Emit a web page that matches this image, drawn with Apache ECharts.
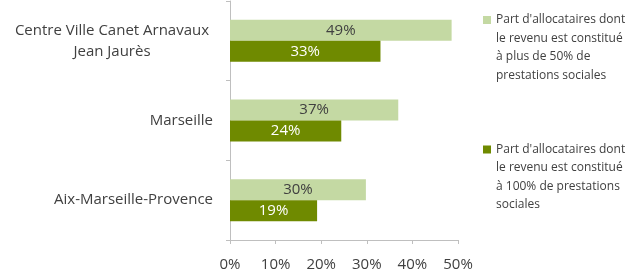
<!DOCTYPE html>
<html><head><meta charset="utf-8">
<script src="https://cdn.jsdelivr.net/npm/echarts@6/dist/echarts.min.js"></script>
<style>html,body{margin:0;padding:0;background:#fff}#c{width:634px;height:269px}</style>
</head><body><div id="c"></div>
<script>
var categories = ["Centre Ville Canet Arnavaux\nJean Jaurès", "Marseille", "Aix-Marseille-Provence"];
var seriesNames = [
  "Part d'allocataires dont\nle revenu est constitué\nà plus de 50% de\nprestations sociales",
  "Part d'allocataires dont\nle revenu est constitué\nà 100% de prestations\nsociales"
];
var plus50 = [48.6, 36.9, 29.8];
var full100 = [33.0, 24.4, 19.1];
var xTicks = [0, 10, 20, 30, 40, 50];

var FONT = "'Open Sans', sans-serif";
var LEG_LH = 18.5;
var chart = echarts.init(document.getElementById('c'));
chart.setOption({
  animation: false,
  textStyle: {fontFamily: FONT},
  grid: {left: 230, right: 176, top: 1, bottom: 29, containLabel: false, outerBoundsMode: 'none'},
  legend: {
    orient: 'vertical', left: 478, top: 20 - 3.5 * LEG_LH - 5,
    itemWidth: 8, itemHeight: 8, itemGap: 0,
    icon: 'rect',
    data: seriesNames,
    formatter: function (n) { return '\n\n\n' + n; },
    textStyle: {fontFamily: FONT, fontSize: 12, color: '#404040', lineHeight: LEG_LH}
  },
  xAxis: {
    type: 'value', min: xTicks[0], max: xTicks[xTicks.length - 1], interval: 10,
    axisLine: {show: true, lineStyle: {color: '#bfbfbf'}},
    axisTick: {show: true, length: 4, lineStyle: {color: '#bfbfbf'}},
    splitLine: {show: false},
    axisLabel: {formatter: '{value}%', fontFamily: FONT, fontSize: 15, color: '#404040', margin: 17}
  },
  yAxis: {
    type: 'category', data: categories, inverse: true,
    axisLine: {show: true, lineStyle: {color: '#bfbfbf'}},
    axisTick: {show: true, length: 4, lineStyle: {color: '#bfbfbf'}},
    axisLabel: {
      fontFamily: FONT, fontSize: 15, color: '#404040', margin: 17, lineHeight: 21,
      formatter: function (v) {
        if (v.indexOf('\n') >= 0) {
          return v.split('\n').map(function (s) { return '{c|' + s + '}'; }).join('\n');
        }
        return v;
      },
      rich: {c: {width: 202, align: 'center', fontFamily: FONT, fontSize: 15, color: '#404040', lineHeight: 21}}
    }
  },
  series: [
    {
      name: seriesNames[0], type: 'bar', data: plus50, barWidth: 21, barGap: '0%',
      itemStyle: {color: '#c4d9a3'},
      label: {show: true, position: 'inside', fontFamily: FONT, fontSize: 15, color: '#404040',
        formatter: function (p) { return Math.round(p.value) + '%'; }}
    },
    {
      name: seriesNames[1], type: 'bar', data: full100, barWidth: 21, barGap: '0%',
      itemStyle: {color: '#6f8a00'},
      label: {show: true, position: 'inside', fontFamily: FONT, fontSize: 15, color: '#ffffff',
        formatter: function (p) { return Math.round(p.value) + '%'; }}
    }
  ]
});
</script></body></html>
